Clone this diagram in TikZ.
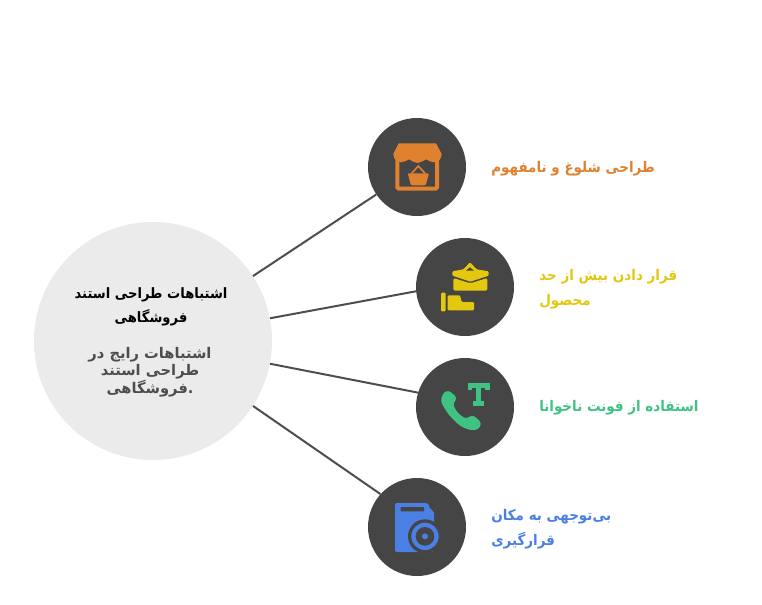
\documentclass[tikz,border=0pt]{standalone}
\usepackage{fontspec}
\usetikzlibrary{positioning}
\TeXXeTstate=1
\newfontfamily\arabicfont[Script=Arabic,FakeStretch=.92]{DejaVu Sans}
\newfontfamily\arabicwide[Script=Arabic]{DejaVu Sans}
\newcommand{\rtl}[1]{\beginR #1\endR}
\definecolor{hubgray}{HTML}{EBEBEB}
\definecolor{disk}{HTML}{454545}
\definecolor{wire}{HTML}{4D4D4D}
\definecolor{storeorange}{HTML}{E0812F}
\definecolor{bagyellow}{HTML}{E3C80F}
\definecolor{phonegreen}{HTML}{3FC282}
\definecolor{bookblue}{HTML}{4A80E3}
\tikzset{
  hub/.style={circle,fill=hubgray,minimum size=178.5pt,inner sep=0pt},
  badge/.style={circle,fill=disk,minimum size=73.5pt,inner sep=0pt},
  spoke/.style={draw=wire,line width=1.5pt},
  hubtitle/.style={font={\arabicfont\bfseries\fontsize{10.7}{18}\selectfont},align=center,inner sep=0pt},
  hubtext/.style={text=wire,font={\arabicwide\bfseries\fontsize{11}{13.2}\selectfont},align=center,inner sep=0pt},
  caption/.style={anchor=west,font={\arabicfont\bfseries\fontsize{11}{18.5}\selectfont},align=left,inner sep=0pt},
  icon/.style={x=.25pt,y=-.25pt}
}

\begin{document}
\begin{tikzpicture}[x=.75pt,y=-.75pt]
\useasboundingbox (0,0) rectangle (762,604);
\node[hub] (hub) at (153,341) {};
\node[badge] (store) at (417,167) {};
\node[badge] (bag) at (465,287) {};
\node[badge] (phone) at (465,407) {};
\node[badge] (book) at (417,527) {};
\draw[spoke] (hub.33) -- (store.214);
\draw[spoke] (hub.11) -- (bag.185);
\draw[spoke] (hub.-11) -- (phone.163);
\draw[spoke] (hub.-33) -- (book.138);
\node[hubtitle] (title) at (151,307) {\rtl{اشتباهات طراحی استند}\\\rtl{فروشگاهی}};
\node[hubtext] (text) at (150,372) {\rtl{اشتباهات رایج در}\\\rtl{طراحی استند}\\\rtl{فروشگاهی}.};
\node[caption,text=storeorange] (storelabel) at (491,169) {\rtl{طراحی شلوغ و نامفهوم}};
\node[caption,text=bagyellow] (baglabel) at (539,289) {\rtl{قرار دادن بیش از حد}\\\rtl{محصول}};
\node[caption,text=phonegreen] (phonelabel) at (539,408) {\rtl{استفاده از فونت ناخوانا}};
\node[caption,text=bookblue] (booklabel) at (491,529) {\rtl{بی‌توجهی به مکان}\\\rtl{قرارگیری}};
% store
\begin{scope}[shift={(360,110)},icon]
\draw[storeorange,line width=3pt,rounded corners=1pt] (112,150) -- (112,236) -- (231,236) -- (231,150);
\fill[storeorange] (116,100) -- (228,100) -- (245,132) to[out=-90,in=0] (222,157) to[out=180,in=-20] (198,148) to[out=200,in=0] (172,159) to[out=180,in=-20] (147,148) to[out=200,in=0] (122,157) to[out=180,in=-90] (100,132) -- cycle;
\fill[storeorange,rounded corners=.8pt] (143,190) -- (207,190) -- (197,226) -- (153,226) -- cycle;
\draw[storeorange,line width=1.2pt] (155,190) -- (175,168) -- (195,190);
\end{scope}
% bag
\begin{scope}[shift={(410,232)},icon]
\fill[bagyellow,rounded corners=.8pt] (127,131) -- (127,118) -- (160,112) -- (180,91) -- (200,112) -- (236,118) -- (236,131) -- (181,149) -- cycle;
\fill[disk] (180,106) -- (192,116) -- (168,116) -- cycle;
\fill[bagyellow,rounded corners=1.5pt] (130,138) -- (181,154) -- (232,138) -- (232,176) -- (130,176) -- cycle;
\fill[bagyellow,rounded corners=.8pt] (93,182) rectangle (107,238);
\fill[bagyellow,rounded corners=.8pt] (113,190) -- (150,190) -- (155,210) -- (192,210) -- (192,235) -- (113,235) -- cycle;
\end{scope}
% phone
\begin{scope}[shift={(410,352)},icon]
\fill[phonegreen,rounded corners=2.5pt] (115,114) -- (142,137) -- (128,158) -- (145,185) -- (168,201) -- (188,188) -- (215,212) -- (207,232) -- (180,235) -- (150,222) -- (115,187) -- (92,150) -- (98,124) -- cycle;
\draw[phonegreen,line width=3.4pt] (180,115) -- (180,100) -- (233,100) -- (233,115) (189,154) -- (223,154);
\draw[phonegreen,line width=4pt] (206,100) -- (206,154);
\end{scope}
% book
\begin{scope}[shift={(360,472)},icon]
\fill[bookblue,rounded corners=1.5pt] (105,93) -- (205,93) -- (210,112) -- (222,117) -- (222,240) -- (105,240) -- cycle;
\fill[disk,rounded corners=.5pt] (122,105) rectangle (192,118);
\fill[disk] (195,193) circle[x radius=51,y radius=51];
\fill[bookblue] (195,193) circle[x radius=41,y radius=41];
\fill[disk] (195,193) circle[x radius=28,y radius=28];
\fill[bookblue] (195,193) circle[x radius=9,y radius=9];
\end{scope}
\end{tikzpicture}
\end{document}
